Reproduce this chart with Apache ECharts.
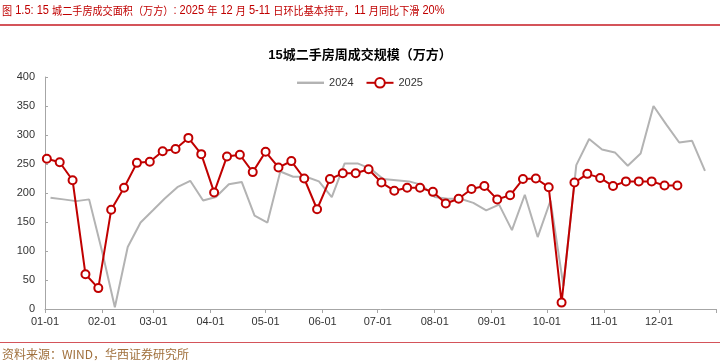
<!DOCTYPE html>
<html><head><meta charset="utf-8">
<script src="https://cdn.jsdelivr.net/npm/echarts@6/dist/echarts.min.js"></script>
<style>html,body{margin:0;padding:0;background:#fff}#c{width:720px;height:364px}</style>
</head><body><div id="c"></div>
<script>
// ---- data ----
const figTitle = '图 1.5: 15 城二手房成交面积（万方）: 2025 年 12 月 5-11 日环比基本持平，11 月同比下滑 20%';
const chartTitle = '15城二手房周成交规模（万方）';
const sourceText = '资料来源：WIND，华西证券研究所';
const seriesNames = ['2024', '2025'];
const monthTicks = ['01-01','02-01','03-01','04-01','05-01','06-01','07-01','08-01','09-01','10-01','11-01','12-01'];
const yTicks = [0, 50, 100, 150, 200, 250, 300, 350, 400];

// 2024 weekly data (week ending Thursday, month-day of 2024), plotted on the same month-day
const dates2024 = ['01-04','01-11','01-18','01-25','02-01','02-08','02-15','02-22','02-29','03-07','03-14','03-21','03-28',
  '04-04','04-11','04-18','04-25','05-02','05-09','05-16','05-23','05-30','06-06','06-13','06-20','06-27',
  '07-04','07-11','07-18','07-25','08-01','08-08','08-15','08-22','08-29','09-05','09-12','09-19','09-26',
  '10-03','10-10','10-17','10-24','10-31','11-07','11-14','11-21','11-28','12-05','12-12','12-19','12-26'];
const values2024 = [192,189,186,189,100,3,107,149,171,190,210,221,187,
  193,215,219,161,149,237,228,228,220,193,251,251,242,
  224,222,220,214,193,190,190,183,170,180,136,197,124,
  187,40,248,293,275,270,247,268,350,318,287,290,238];

// 2025 weekly data (week ending Thursday)
const dates2025 = ['01-02','01-09','01-16','01-23','01-30','02-06','02-13','02-20','02-27','03-06','03-13','03-20','03-27',
  '04-03','04-10','04-17','04-24','05-01','05-08','05-15','05-22','05-29','06-05','06-12','06-19','06-26',
  '07-03','07-10','07-17','07-24','07-31','08-07','08-14','08-21','08-28','09-04','09-11','09-18','09-25',
  '10-02','10-09','10-16','10-23','10-30','11-06','11-13','11-20','11-27','12-04','12-11'];
const values2025 = [259,253,222,60,36,171,209,252,254,272,276,295,267,
  201,263,266,236,271,244,255,225,172,224,234,234,241,
  218,204,209,209,202,182,190,207,212,189,196,224,225,
  210,11,218,233,226,212,220,220,220,213,213];

// ---- helpers: x is the day offset within 2025 ----
const YEAR = 2025;
const DAY = 86400000;
const BASE = Date.UTC(YEAR, 0, 1);
function dayOf(s) { const p = s.split('-'); return Math.round((Date.UTC(YEAR, +p[0] - 1, +p[1]) - BASE) / DAY); }
const pad = n => String(n).padStart(2, '0');
const yearEnd = Math.round((Date.UTC(YEAR + 1, 0, 1) - BASE) / DAY);
const labelVals = monthTicks.map(dayOf);
const tickVals = labelVals.concat([yearEnd]);
function fmtDay(v) { const d = new Date(BASE + v * DAY); return pad(d.getUTCMonth() + 1) + '-' + pad(d.getUTCDate()); }

// split text into CJK / Latin runs for rich text
function richRuns(s) {
  const re = /[\u3000-\u303f\u4e00-\u9fff\uff00-\uffef]+|[^\u3000-\u303f\u4e00-\u9fff\uff00-\uffef]+/g;
  return (s.match(re) || []).map(r => (/[\u3000-\u303f\u4e00-\u9fff\uff00-\uffef]/.test(r) ? '{c|' : '{l|') + r + '}').join('');
}

const chart = echarts.init(document.getElementById('c'));
const FONT = '"Liberation Sans", Arial, "Noto Sans CJK SC", sans-serif';
const CJK = '"Noto Sans CJK SC", sans-serif';
chart.setOption({
  animation: false,
  textStyle: { fontFamily: FONT },
  title: {
    text: chartTitle, left: 'center', top: 44,
    textStyle: { fontSize: 13, fontWeight: 'bold', color: '#000', fontFamily: FONT }
  },
  legend: {
    top: 72, left: 'center', itemWidth: 27, itemHeight: 12, itemGap: 12,
    data: [
      { name: seriesNames[0], icon: 'path://M0,0 L100,0 L100,9 L0,9 Z' },
      { name: seriesNames[1] }
    ],
    textStyle: { fontSize: 11, color: '#333', fontFamily: FONT }
  },
  grid: { left: 45, right: 4, top: 77, bottom: 55, containLabel: false },
  xAxis: {
    type: 'value',
    min: 0, max: yearEnd,
    axisLine: { lineStyle: { color: '#a6a6a6', width: 1 } },
    axisTick: { show: true, customValues: tickVals, length: 4, lineStyle: { color: '#a6a6a6' } },
    splitLine: { show: false },
    axisLabel: {
      customValues: labelVals, fontSize: 11, color: '#333', margin: 7, hideOverlap: false,
      formatter: v => fmtDay(v)
    }
  },
  yAxis: {
    type: 'value', min: yTicks[0], max: yTicks[yTicks.length - 1], interval: 50,
    axisLine: { show: true, lineStyle: { color: '#a6a6a6' } },
    axisTick: { show: true, inside: true, length: 3, lineStyle: { color: '#a6a6a6' } },
    splitLine: { show: false },
    axisLabel: { fontSize: 11, color: '#333', margin: 10 }
  },
  series: [
    {
      name: seriesNames[0], type: 'line', symbol: 'none',
      lineStyle: { color: '#b3b3b3', width: 2 }, itemStyle: { color: '#b3b3b3' },
      data: dates2024.map((d, i) => [dayOf(d), values2024[i]]), z: 2
    },
    {
      name: seriesNames[1], type: 'line', symbol: 'circle', symbolSize: 8,
      lineStyle: { color: '#c00000', width: 2 },
      itemStyle: { color: '#fff', borderColor: '#c00000', borderWidth: 2 },
      data: dates2025.map((d, i) => [dayOf(d), values2025[i]]), z: 3
    }
  ],
  graphic: [
    { type: 'text', x: 2, y: 3, scaleX: 0.92, originX: 0, style: {
        text: richRuns(figTitle), fill: '#c00000', verticalAlign: 'top',
        rich: {
          c: { fontSize: 11, fontFamily: CJK, fill: '#c00000', lineHeight: 16 },
          l: { fontSize: 12, fontFamily: FONT, fill: '#c00000', lineHeight: 16 }
        } } },
    { type: 'rect', shape: { x: 0, y: 24, width: 720, height: 2 }, style: { fill: '#d4545a' } },
    { type: 'rect', shape: { x: 0, y: 342, width: 720, height: 1 }, style: { fill: '#d4545a' } },
    { type: 'text', left: 2, top: 348, style: { text: sourceText, fill: '#a0703c', font: '12px ' + CJK } }
  ]
});
</script></body></html>
